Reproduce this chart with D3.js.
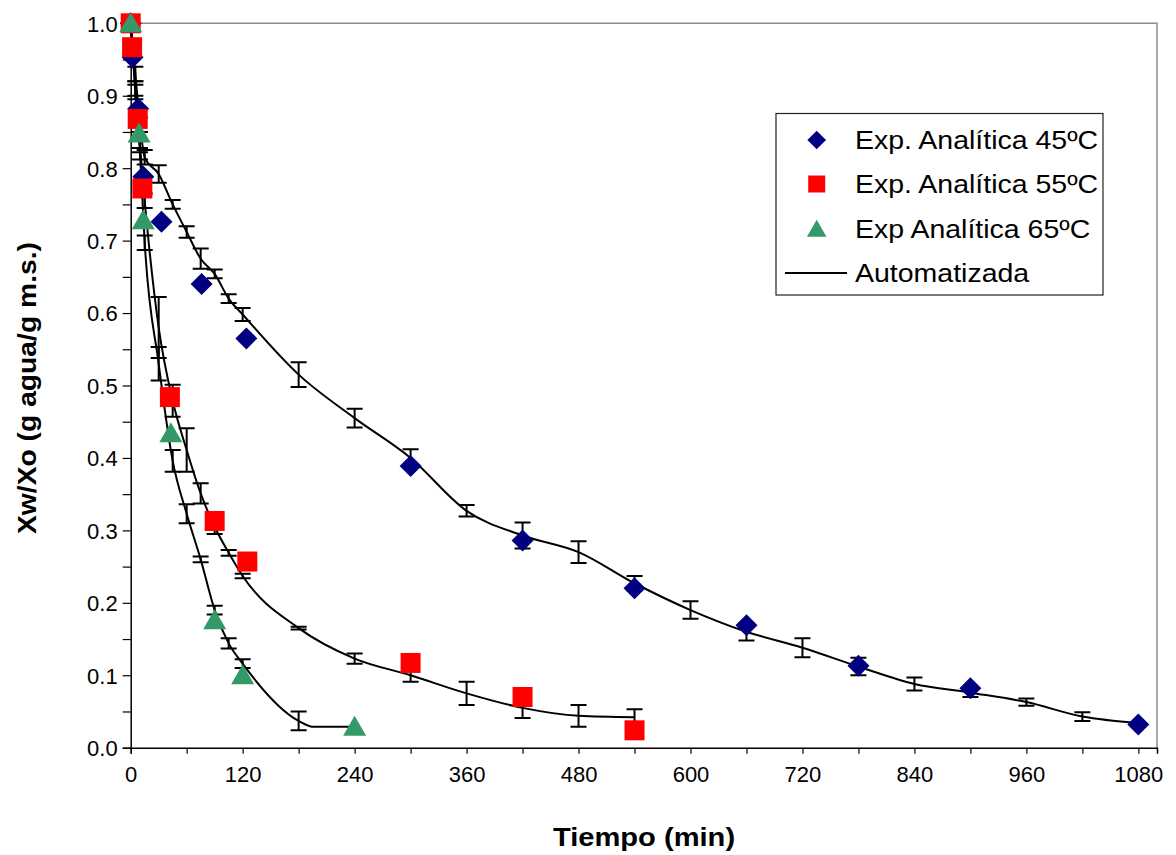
<!DOCTYPE html>
<html>
<head>
<meta charset="utf-8">
<script src="https://cdn.jsdelivr.net/npm/d3@7"></script>
<style>
  html, body { margin: 0; padding: 0; background: #fff; }
  svg { display: block; }
  text { font-family: "Liberation Sans", Arial, sans-serif; }
</style>
</head>
<body>
<svg id="chart" width="1176" height="855"></svg>
<script>
// ---------- DATA ----------
// Experimental (analytical) points
const exp45Time = [0, 2, 8, 13.5, 33, 76, 124, 300, 420, 540, 660, 780, 900, 1080];
const exp45Val  = [1.0, 0.953, 0.882, 0.788, 0.726, 0.640, 0.565, 0.389, 0.286, 0.220, 0.169, 0.113, 0.082, 0.032];

const exp55Time = [0, 1.5, 7.5, 12.5, 42, 90, 125, 300, 420, 540];
const exp55Val  = [1.0, 0.967, 0.868, 0.772, 0.484, 0.313, 0.257, 0.117, 0.070, 0.024];

const exp65Time = [0, 9, 13.5, 43, 90, 120, 240];
const exp65Val  = [1.0, 0.848, 0.728, 0.434, 0.176, 0.100, 0.029];

// Automated (mean ± error)
const auto45Time = [0, 5, 10, 15, 30, 45, 60, 75, 90, 105, 120, 180, 240, 300, 360, 420, 480, 540, 600, 660, 720, 780, 840, 900, 960, 1020, 1080];
const auto45Val  = [1.0, 0.93, 0.86, 0.815, 0.792, 0.75, 0.712, 0.675, 0.654, 0.62, 0.598, 0.515, 0.455, 0.40, 0.327, 0.293, 0.270, 0.227, 0.190, 0.160, 0.138, 0.112, 0.088, 0.076, 0.063, 0.043, 0.034];
const auto45Err  = [0, 0.01, 0.01, 0.01, 0.012, 0.006, 0.008, 0.014, 0.006, 0.006, 0.009, 0.017, 0.013, 0.012, 0.008, 0.018, 0.015, 0.010, 0.012, 0.012, 0.013, 0.012, 0.009, 0.006, 0.005, 0.006, 0];

const auto55Time = [0, 5, 10, 15, 30, 45, 60, 75, 90, 105, 120, 180, 240, 300, 360, 420, 480, 540];
const auto55Val  = [1.0, 0.91, 0.83, 0.755, 0.58, 0.479, 0.411, 0.351, 0.305, 0.269, 0.237, 0.165, 0.123, 0.100, 0.075, 0.055, 0.044, 0.042];
const auto55Err  = [0, 0.01, 0.008, 0.01, 0.042, 0.022, 0.030, 0.014, 0.010, 0.004, 0.003, 0.002, 0.007, 0.009, 0.016, 0.014, 0.015, 0.011];

const auto65Time = [0, 5, 10, 15, 30, 45, 60, 75, 90, 105, 120, 180, 195, 240];
const auto65Val  = [1.0, 0.905, 0.82, 0.697, 0.53, 0.396, 0.323, 0.26, 0.19, 0.144, 0.116, 0.037, 0.029, 0.029];
const auto65Err  = [0, 0.01, 0.008, 0.01, 0.023, 0.015, 0.013, 0.004, 0.006, 0.007, 0.006, 0.013, 0, 0];

const xTickValues = d3.range(0, 1081, 60);
const xTickLabels = [0, 120, 240, 360, 480, 600, 720, 840, 960, 1080];
const yTickValues = d3.range(0, 21).map(i => i * 0.05);
const yTickLabels = [0.0, 0.1, 0.2, 0.3, 0.4, 0.5, 0.6, 0.7, 0.8, 0.9, 1.0];

const legendLabels = ["Exp. Analítica 45ºC", "Exp. Analítica 55ºC", "Exp Analítica 65ºC", "Automatizada"];

// ---------- LAYOUT ----------
const svg = d3.select("#chart");
const m = { left: 130.7, top: 23.3, right: 1157, bottom: 747.7 };
const x = d3.scaleLinear().domain([0, 1100]).range([m.left, m.right]);
const y = d3.scaleLinear().domain([0, 1]).range([m.bottom, m.top]);

const navy = "#000080", red = "#FF0000", green = "#339966";

// helper: horizontally stretched text (reference glyphs are wider than tall)
function stretch(sel, sx, anchorX) {
  sel.attr("transform", `translate(${anchorX},0) scale(${sx},1) translate(${-anchorX},0)`);
}

// plot area border (top & right gray)
svg.append("path")
  .attr("d", `M${m.left},${m.top}H${m.right}V${m.bottom}`)
  .attr("fill", "none").attr("stroke", "#8c8c8c").attr("stroke-width", 1.5);

// axes
const fmt = d => {
  const r = Math.round(d * 100) / 100;
  return yTickLabels.some(v => Math.abs(v - r) < 1e-9) ? r.toFixed(1) : "";
};
const yAxis = d3.axisLeft(y).tickValues(yTickValues).tickSize(8).tickPadding(5).tickFormat(fmt);
const xAxis = d3.axisBottom(x).tickValues(xTickValues).tickSize(6).tickPadding(13)
  .tickFormat(d => xTickLabels.includes(d) ? String(d) : "");

const gy = svg.append("g").attr("transform", `translate(${m.left},0)`).call(yAxis);
const gx = svg.append("g").attr("transform", `translate(0,${m.bottom})`).call(xAxis);
[gx, gy].forEach(g => {
  g.selectAll("path.domain").attr("stroke", "#000").attr("stroke-width", 1.5);
  g.selectAll(".tick line").attr("stroke", "#000").attr("stroke-width", 1.2);
  g.selectAll(".tick text").attr("fill", "#000").attr("font-size", 22)
    .attr("font-family", "'Liberation Sans', Arial, sans-serif");
});
gy.selectAll(".tick text").attr("dy", "0.36em");

// axis titles
const xt = svg.append("text")
  .attr("x", 644).attr("y", 846)
  .attr("text-anchor", "middle")
  .attr("font-weight", "bold").attr("font-size", 26)
  .text("Tiempo (min)");
stretch(xt, 1.12, 644);

svg.append("text")
  .attr("transform", "translate(36,388) rotate(-90)")
  .attr("text-anchor", "middle")
  .attr("font-weight", "bold").attr("font-size", 25)
  .attr("textLength", 292).attr("lengthAdjust", "spacingAndGlyphs")
  .text("Xw/Xo (g agua/g m.s.)");

// automated lines + error bars
const line = d3.line().x(d => x(d[0])).y(d => y(d[1])).curve(d3.curveMonotoneX);
const autos = [
  [auto45Time, auto45Val, auto45Err],
  [auto55Time, auto55Val, auto55Err],
  [auto65Time, auto65Val, auto65Err]
];
const gl = svg.append("g");
autos.forEach(([t, v, e]) => {
  const pts = t.map((ti, i) => [ti, v[i], e[i]]);
  gl.append("path").datum(pts).attr("d", line)
    .attr("fill", "none").attr("stroke", "#000").attr("stroke-width", 2);
  const eb = gl.append("g");
  pts.filter(p => p[2] > 0).forEach(p => {
    const cx = x(p[0]), y1 = y(p[1] + p[2]), y2 = y(p[1] - p[2]);
    eb.append("path")
      .attr("d", `M${cx},${y1}V${y2}M${cx - 8},${y1}H${cx + 8}M${cx - 8},${y2}H${cx + 8}`)
      .attr("fill", "none").attr("stroke", "#000").attr("stroke-width", 2);
  });
});

// markers
const diamondPath = "M0,-11L11,0L0,11L-11,0Z";
const squarePath = "M-10,-10H10V10H-10Z";
const trianglePath = "M0,-11L11.5,9L-11.5,9Z";

const gm = svg.append("g");
function drawMarkers(times, vals, path, color) {
  gm.append("g").selectAll("path")
    .data(times.map((t, i) => [t, vals[i]]))
    .join("path")
    .attr("d", path)
    .attr("transform", d => `translate(${x(d[0])},${y(d[1])})`)
    .attr("fill", color);
}
drawMarkers(exp45Time, exp45Val, diamondPath, navy);
drawMarkers(exp55Time, exp55Val, squarePath, red);
drawMarkers(exp65Time, exp65Val, trianglePath, green);

// legend
const lg = svg.append("g");
lg.append("rect").attr("x", 776).attr("y", 113.5).attr("width", 327).attr("height", 181.5)
  .attr("fill", "#fff").attr("stroke", "#222").attr("stroke-width", 1.2);
const rowsY = [140, 184, 229, 273];
const lgSyms = [[diamondPath, navy, 0.85], [squarePath, red, 0.85], [trianglePath, green, 0.85]];
lgSyms.forEach((s, i) => {
  lg.append("path").attr("d", s[0])
    .attr("transform", `translate(816.7,${rowsY[i]}) scale(${s[2]})`)
    .attr("fill", s[1]);
});
lg.append("line").attr("x1", 785).attr("x2", 847).attr("y1", rowsY[3]).attr("y2", rowsY[3])
  .attr("stroke", "#000").attr("stroke-width", 2);
legendLabels.forEach((lab, i) => {
  const t = lg.append("text").attr("x", 855).attr("y", rowsY[i]).attr("dy", "0.36em")
    .attr("font-size", 25).attr("fill", "#000").text(lab);
  stretch(t, 1.14, 855);
});
</script>
</body>
</html>
